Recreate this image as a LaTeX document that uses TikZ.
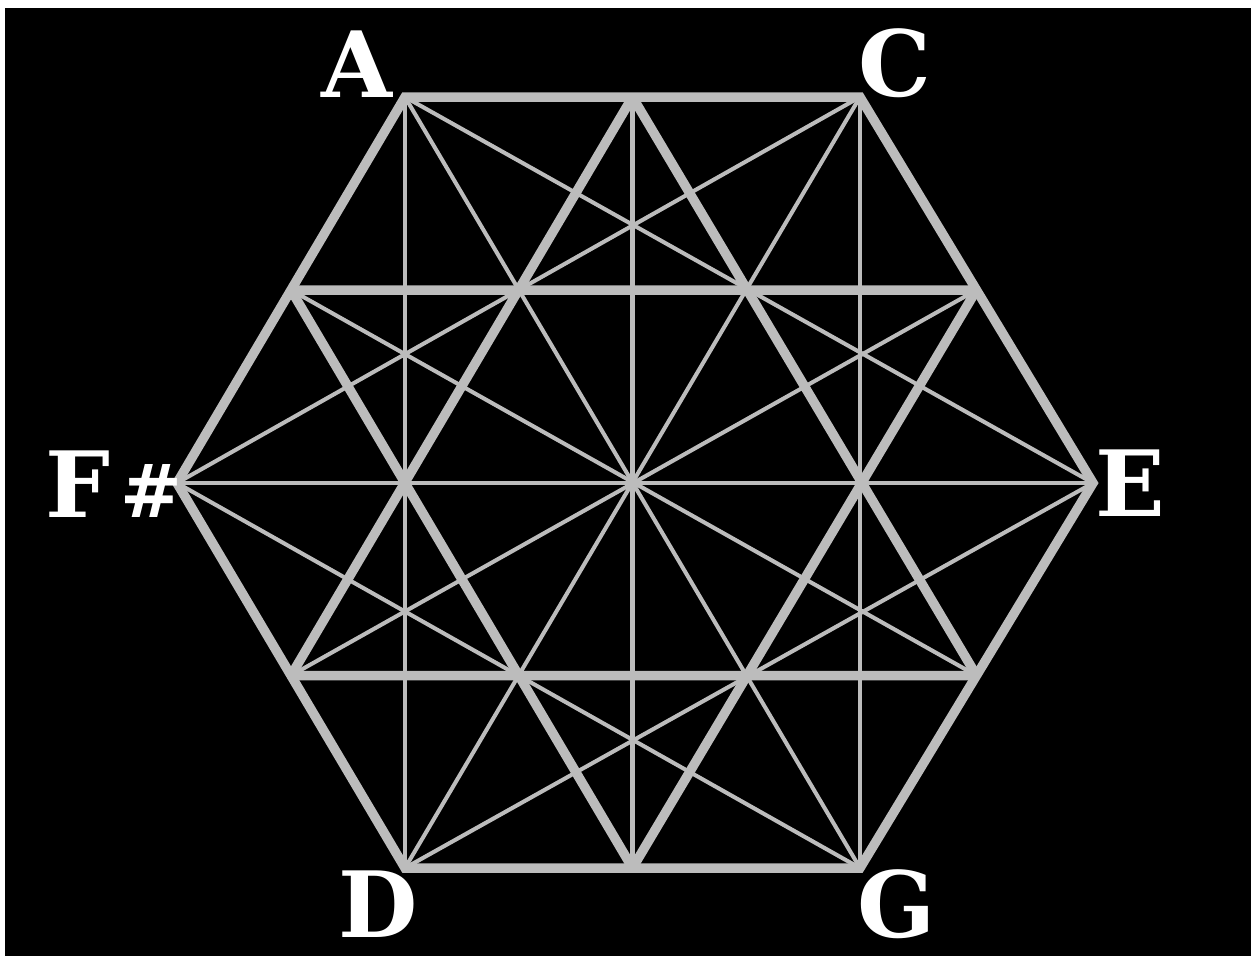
\documentclass[tikz,border=0pt]{standalone}
\usepackage{fontspec}
\setmainfont{DejaVu Serif}
\usetikzlibrary{calc}

\definecolor{wire}{RGB}{188,188,188}

\begin{document}
\begin{tikzpicture}[
    x=0.01cm, y=-0.01cm,
    chord/.style={wire, line width=1.15pt},
    rim/.style={wire, line width=2.7pt},
    note/.style={text=white, inner sep=0pt, font=\fontsize{26}{26}\selectfont\bfseries}
]

    % Frame
    \useasboundingbox (0, 0) rectangle (1253, 956);
    \fill[white] (0, 0) rectangle (1253, 956);
    \fill[black] (5, 8) rectangle (1251, 956);

    % Coordinates (hexagon corners)
    \coordinate (A) at (405, 97);
    \coordinate (C) at (860, 97);
    \coordinate (E) at (1093, 483);
    \coordinate (G) at (860, 868);
    \coordinate (D) at (405, 868);
    \coordinate (F) at (177, 483);

    % Edge midpoints
    \coordinate (mAC) at ($(A)!0.5!(C)$);
    \coordinate (mCE) at ($(C)!0.5!(E)$);
    \coordinate (mEG) at ($(E)!0.5!(G)$);
    \coordinate (mGD) at ($(G)!0.5!(D)$);
    \coordinate (mDF) at ($(D)!0.5!(F)$);
    \coordinate (mFA) at ($(F)!0.5!(A)$);

    % Diagonals between corners
    \draw[chord] (A) -- (E);
    \draw[chord] (A) -- (G);
    \draw[chord] (A) -- (D);
    \draw[chord] (C) -- (G);
    \draw[chord] (C) -- (D);
    \draw[chord] (C) -- (F);
    \draw[chord] (E) -- (D);
    \draw[chord] (E) -- (F);
    \draw[chord] (G) -- (F);

    % Lines through the centre between midpoints
    \draw[chord] (mAC) -- (mGD);
    \draw[chord] (mCE) -- (mDF);
    \draw[chord] (mEG) -- (mFA);

    % Star of midpoints
    \draw[rim, line join=bevel] (mAC) -- (mEG) -- (mDF) -- cycle;
    \draw[rim, line join=bevel] (mCE) -- (mGD) -- (mFA) -- cycle;

    % Hexagon
    \draw[rim] (A) -- (C) -- (E) -- (G) -- (D) -- (F) -- cycle;

    % Note names
    \node[note] (lA) at (357, 64) {A};
    \node[note] (lC) at (895, 63) {C};
    \node[note] (lE) at (1130, 483) {E};
    \node[note] (lG) at (897, 904) {G};
    \node[note] (lD) at (378, 904) {D};
    \node[note] (lF) at (114, 484) {F\kern3pt{\fontsize{21}{21}\selectfont\#}};

\end{tikzpicture}
\end{document}
